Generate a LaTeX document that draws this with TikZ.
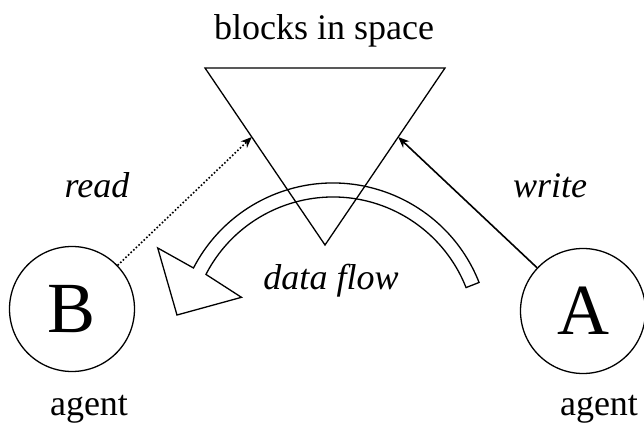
\documentclass[tikz,border=0pt]{standalone}
\usepackage{fontspec}
\setmainfont{Liberation Serif}
\usetikzlibrary{arrows.meta,calc}

\begin{document}
\begin{tikzpicture}
[x=1pt,y=1pt,line width=1.3pt,
agent/.style={draw,circle,minimum size=125pt,inner sep=0pt,
              font=\fontsize{72}{72}\selectfont},
caption/.style={anchor=base,font=\fontsize{36}{36}\selectfont},
verb/.style={anchor=base,font=\fontsize{36}{36}\selectfont\itshape},
tip/.style={-{Stealth[length=11pt,width=9pt,inset=3.5pt]},line width=1.6pt}]
\useasboundingbox (0,0) rectangle (644,428);
\node[caption] (title) at (324,388) {blocks in space};
% the blocks
\coordinate (tl) at (205,360);
\coordinate (tr) at (445,360);
\coordinate (apex) at (325,183);
\draw (tl) -- (tr) -- (apex) -- cycle;
\coordinate (rd) at ($(tl)!0.39!(apex)$);
\coordinate (wr) at ($(tr)!0.39!(apex)$);
% agents
\node[agent] (B) at (72,119) {B};
\node[agent] (A) at (583,117) {A};
\node[caption] (agentB) at (89,13) {agent};
\node[caption] (agentA) at (599,13) {agent};
\draw[tip,dotted] (B) -- (rd);
\draw[tip] (A) -- (wr);
\node[verb] (read) at (97,230) {read};
\node[verb] (write) at (550,230) {write};
% curved hollow arrow
\draw[shift={(333,88)},line join=miter]
  (21.5:157) arc[start angle=21.5,end angle=152.7,radius=157]
  -- (152.3:198) -- (170.9:158) -- (155:101) -- (152.7:143)
  arc[start angle=152.7,end angle=21.5,radius=143] -- cycle;
\node[verb] (flow) at (331,138) {data flow};
\end{tikzpicture}
\end{document}
